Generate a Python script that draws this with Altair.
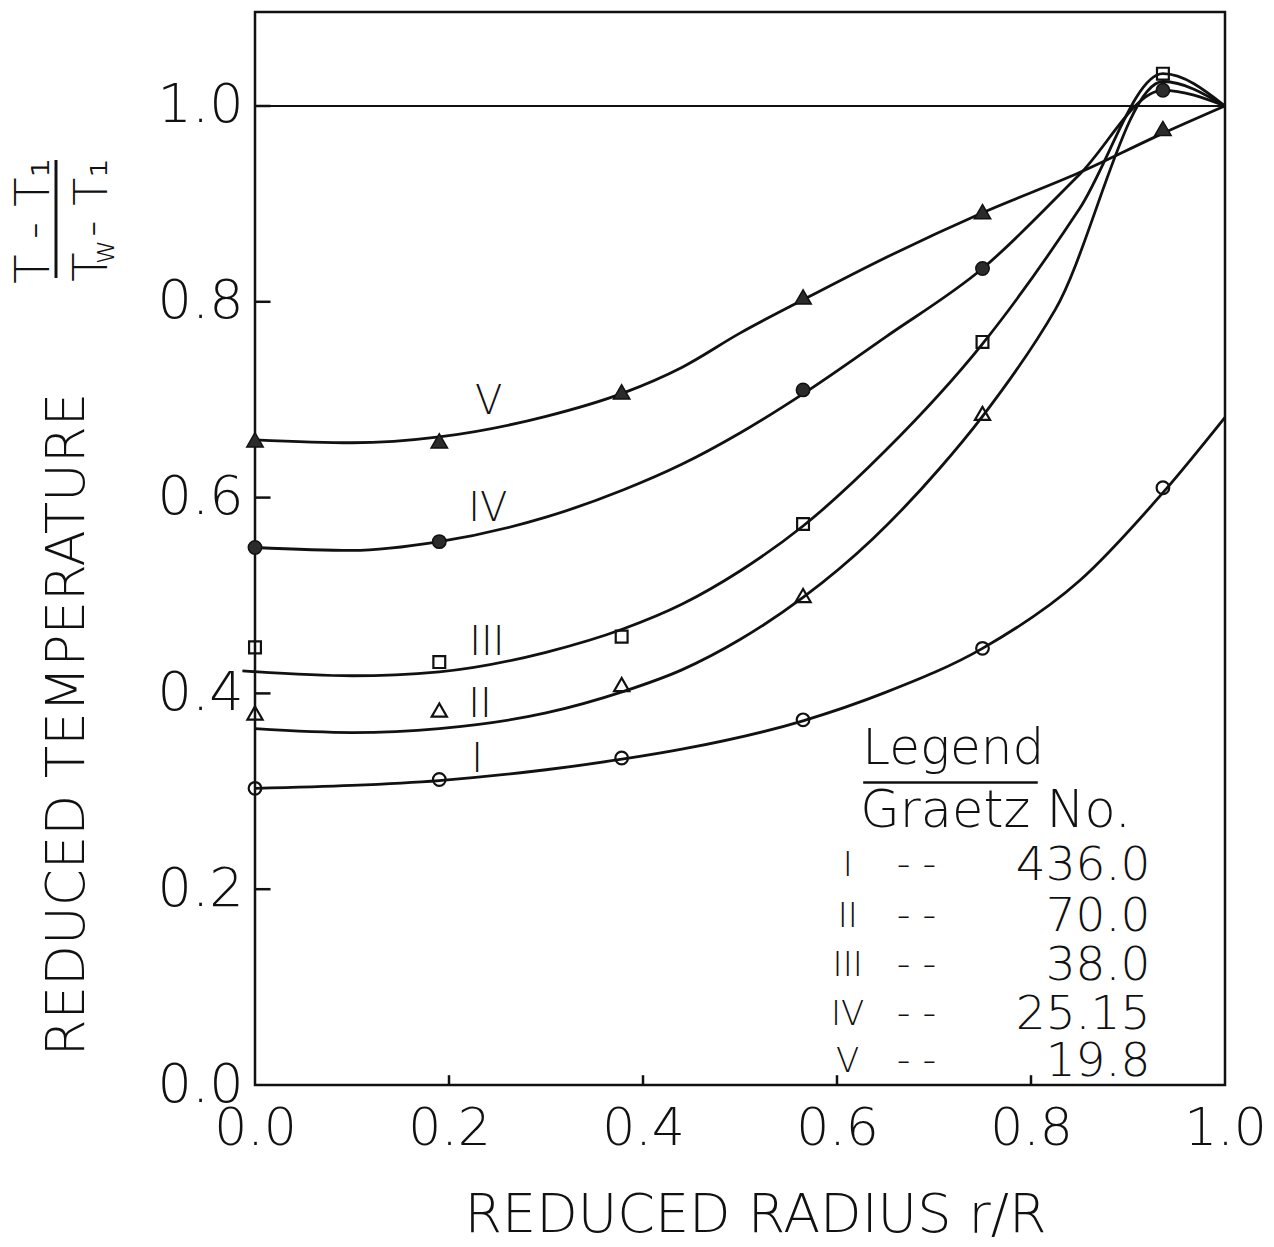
import altair as alt
import pandas as pd

FONT = "DejaVu Sans"
FW = 200
INK = "#111111"

# ---------------- values ----------------
series = ["I", "II", "III", "IV", "V"]
graetz_no = ["436.0", "70.0", "38.0", "25.15", "19.8"]
tick_vals = [0.0, 0.2, 0.4, 0.6, 0.8, 1.0]

# measured points: reduced radius r/R and reduced temperature
pts_r = {
    "I":   [0.0, 0.19, 0.378, 0.565, 0.75, 0.936],
    "II":  [0.0, 0.19, 0.378, 0.565, 0.75],
    "III": [0.0, 0.19, 0.378, 0.565, 0.75, 0.936],
    "IV":  [0.0, 0.19, 0.565, 0.75, 0.936],
    "V":   [0.0, 0.19, 0.378, 0.565, 0.75, 0.936],
}
pts_t = {
    "I":   [0.303, 0.312, 0.334, 0.373, 0.446, 0.610],
    "II":  [0.380, 0.383, 0.409, 0.500, 0.686],
    "III": [0.447, 0.432, 0.458, 0.573, 0.759, 1.033],
    "IV":  [0.549, 0.555, 0.710, 0.834, 1.016],
    "V":   [0.659, 0.658, 0.708, 0.805, 0.892, 0.977],
}

# hand-drawn fitted curves
curve_r = {
    "I":   [0.0, 0.1, 0.19, 0.3, 0.38, 0.44, 0.565, 0.65, 0.75, 0.85, 0.936, 1.0],
    "II":  [0.0, 0.1, 0.19, 0.3, 0.38, 0.44, 0.5, 0.565, 0.637, 0.706, 0.75, 0.825, 0.936, 1.0],
    "III": [-0.013, 0.1, 0.19, 0.3, 0.38, 0.44, 0.5, 0.565, 0.65, 0.75, 0.85, 0.936, 1.0],
    "IV":  [0.0, 0.1, 0.19, 0.3, 0.38, 0.44, 0.5, 0.565, 0.65, 0.75, 0.85, 0.936, 1.0],
    "V":   [0.0, 0.1, 0.19, 0.3, 0.38, 0.44, 0.5, 0.565, 0.65, 0.75, 0.85, 0.936, 1.0],
}
curve_t = {
    "I":   [0.303, 0.306, 0.311, 0.322, 0.333, 0.343, 0.372, 0.401, 0.446, 0.515, 0.605, 0.682],
    "II":  [0.364, 0.360, 0.364, 0.380, 0.402, 0.424, 0.455, 0.498, 0.558, 0.630, 0.683, 0.792, 1.025, 1.0],
    "III": [0.423, 0.418, 0.422, 0.442, 0.466, 0.491, 0.525, 0.571, 0.648, 0.757, 0.895, 1.033, 1.0],
    "IV":  [0.549, 0.546, 0.555, 0.580, 0.608, 0.634, 0.666, 0.706, 0.764, 0.834, 0.930, 1.016, 1.0],
    "V":   [0.659, 0.656, 0.662, 0.683, 0.707, 0.733, 0.768, 0.802, 0.845, 0.891, 0.932, 0.972, 1.0],
}

# ---------------- styling tables ----------------
marker_shape = {"I": "circle", "II": "triangle-up", "III": "square", "IV": "circle", "V": "triangle-up"}
marker_filled = {"I": False, "II": False, "III": False, "IV": True, "V": True}
marker_size = {"I": 160, "II": 230, "III": 140, "IV": 180, "V": 270}

# annotation anchors (data units)
label_pos = {"V": (0.241, 0.698), "IV": (0.240, 0.588), "III": (0.239, 0.451),
             "II": (0.232, 0.388), "I": (0.229, 0.332)}
legend_row_y = [0.224, 0.172, 0.122, 0.072, 0.023]

# ---------------- tables ----------------
pts_rows = []
for s in series:
    for r, t in zip(pts_r[s], pts_t[s]):
        pts_rows.append({"series": s, "r": r, "t": t, "shape": marker_shape[s],
                         "size": marker_size[s], "filled": marker_filled[s]})
pts_df = pd.DataFrame(pts_rows)

curve_rows = []
for s in series:
    for i, (r, t) in enumerate(zip(curve_r[s], curve_t[s])):
        curve_rows.append({"series": s, "r": r, "t": t, "idx": i})
curve_df = pd.DataFrame(curve_rows)

lab_df = pd.DataFrame([{"label": s, "r": label_pos[s][0], "t": label_pos[s][1]} for s in series])

# Graetz numbers aligned on the decimal point: pad decimals with figure spaces
FIGSP = "\u2007"
max_dec = max(len(g.split(".")[1]) for g in graetz_no)
leg_rows = []
for s, g, yy in zip(series, graetz_no, legend_row_y):
    pad = FIGSP * (max_dec - len(g.split(".")[1]))
    leg_rows.append({"num": s, "val": g + pad, "t": yy})
leg_df = pd.DataFrame(leg_rows)

# ---------------- scales / axes ----------------
xs = alt.Scale(domain=[0, 1.0], nice=False, zero=False)
ys = alt.Scale(domain=[0, 1.096], nice=False, zero=False)
xa = alt.Axis(values=tick_vals, format=".1f", labelFont=FONT, labelFontSize=52,
              labelFontWeight=FW, labelPadding=18, labelFlush=False, labelOverlap=False,
              labelColor=INK, ticks=False, tickSize=0, domain=False, grid=False,
              title="REDUCED RADIUS r/R", titleFont=FONT, titleFontSize=54,
              titleFontWeight=FW, titleColor=INK, titleX=500, titleY=130,
              titleAlign="center", titleBaseline="middle")
ya = alt.Axis(values=tick_vals, format=".1f", labelFont=FONT, labelFontSize=54,
              labelFontWeight=FW, labelPadding=12, labelFlush=False, labelOverlap=False,
              labelColor=INK, ticks=False, tickSize=0, domain=False, grid=False,
              title="REDUCED TEMPERATURE", titleFont=FONT, titleFontSize=53,
              titleFontWeight=FW, titleColor=INK, titleAngle=270,
              titleX=-188, titleY=712, titleAlign="center", titleBaseline="middle")


def X(f="r"):
    return alt.X(f"{f}:Q", scale=xs, axis=xa)


def Y(f="t"):
    return alt.Y(f"{f}:Q", scale=ys, axis=ya)


def txt_mark(size, align="center", **kw):
    return dict(font=FONT, fontSize=size, fontWeight=FW, color=INK, align=align,
                baseline="middle", **kw)


# reference line at 1.0
ref_df = pd.DataFrame({"r": [0.0], "r2": [1.0], "t": [1.0]})
ref = alt.Chart(ref_df).mark_rule(color=INK, strokeWidth=2).encode(
    x=X(), x2="r2:Q", y=Y())

# inward tick marks
yt_df = pd.DataFrame({"r": [0.0] * 5, "r2": [0.016] * 5, "t": tick_vals[1:]})
ytick = alt.Chart(yt_df).mark_rule(color=INK, strokeWidth=2.5).encode(
    x=X(), x2="r2:Q", y=Y())
xt_df = pd.DataFrame({"r": tick_vals[1:5], "t": [0.0] * 4, "t2": [0.010] * 4})
xtick = alt.Chart(xt_df).mark_rule(color=INK, strokeWidth=2.5).encode(
    x=X(), y=Y(), y2="t2:Q")

curves = alt.Chart(curve_df).mark_line(color=INK, strokeWidth=2.8, interpolate="monotone").encode(
    x=X(), y=Y(), detail="series:N", order="idx:Q")

open_pts = alt.Chart(pts_df[~pts_df["filled"]]).mark_point(
    filled=False, color=INK, strokeWidth=2.2, opacity=1).encode(
    x=X(), y=Y(), shape=alt.Shape("shape:N", scale=None),
    size=alt.Size("size:Q", scale=None))
filled_pts = alt.Chart(pts_df[pts_df["filled"]]).mark_point(
    filled=True, fill="#2b2b2b", stroke=INK, strokeWidth=1.5, opacity=1).encode(
    x=X(), y=Y(), shape=alt.Shape("shape:N", scale=None),
    size=alt.Size("size:Q", scale=None))

labels = alt.Chart(lab_df).mark_text(**txt_mark(40)).encode(
    x=X(), y=Y(), text="label:N")

# legend block
leg_title = alt.Chart(pd.DataFrame({"r": [0.626], "t": [0.343], "txt": ["Legend"]})).mark_text(
    **txt_mark(50, "left")).encode(x=X(), y=Y(), text="txt:N")
leg_line = alt.Chart(pd.DataFrame({"r": [0.627], "r2": [0.807], "t": [0.309]})).mark_rule(
    color=INK, strokeWidth=2.5).encode(x=X(), x2="r2:Q", y=Y())
leg_sub = alt.Chart(pd.DataFrame({"r": [0.624], "t": [0.279], "txt": ["Graetz No."]})).mark_text(
    **txt_mark(51, "left")).encode(x=X(), y=Y(), text="txt:N")
leg_base = alt.Chart(leg_df)
leg_num = leg_base.mark_text(**txt_mark(34)).encode(
    x=alt.X("rn:Q", scale=xs, axis=xa), y=Y(), text="num:N").transform_calculate(rn="0.611")
leg_dash = leg_base.mark_text(**txt_mark(38)).encode(
    x=alt.X("rd:Q", scale=xs, axis=xa), y=Y(), text=alt.value("- -")).transform_calculate(rd="0.682")
leg_val = leg_base.mark_text(**txt_mark(47, "right")).encode(
    x=alt.X("rv:Q", scale=xs, axis=xa), y=Y(), text="val:N").transform_calculate(rv="0.923")

# fraction next to the y title (pixel positions relative to plot origin)
one = pd.DataFrame({"a": [0]})
frac_bar = alt.Chart(one).mark_rule(color=INK, strokeWidth=3).encode(
    x=alt.value(-199), y=alt.value(148), y2=alt.value(266))
frac_num = alt.Chart(one).mark_text(**txt_mark(48, angle=270, text="T - T\u2081")).encode(
    x=alt.value(-220), y=alt.value(209))
frac_den1 = alt.Chart(one).mark_text(**txt_mark(48, angle=270, text="T")).encode(
    x=alt.value(-162), y=alt.value(255))
frac_den2 = alt.Chart(one).mark_text(**txt_mark(30, angle=270, text="w")).encode(
    x=alt.value(-150), y=alt.value(240))
frac_den3 = alt.Chart(one).mark_text(**txt_mark(46, angle=270, text="- T\u2081")).encode(
    x=alt.value(-162), y=alt.value(186))

chart = alt.layer(
    ref, ytick, xtick, curves, open_pts, filled_pts, labels,
    leg_title, leg_line, leg_sub, leg_num, leg_dash, leg_val,
    frac_bar, frac_num, frac_den1, frac_den2, frac_den3,
).properties(
    width=970, height=1073,
    autosize=alt.AutoSizeParams(type="none"),
    padding={"left": 255, "top": 12, "right": 49, "bottom": 162},
    background="white",
).configure_view(
    stroke=INK, strokeWidth=2.5, fill="white"
)

chart.save("out.html", embed_options={"renderer": "svg", "actions": False})
